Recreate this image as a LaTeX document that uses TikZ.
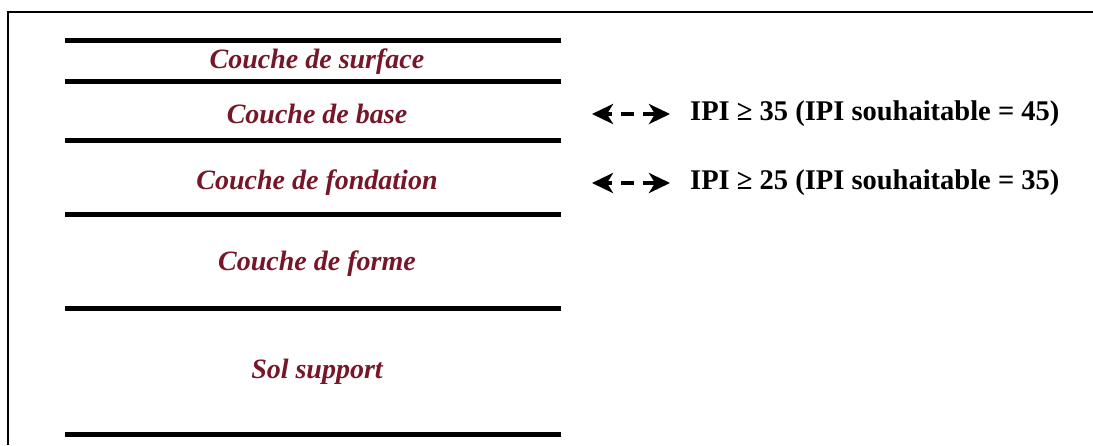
\documentclass[tikz,border=0pt]{standalone}
\usepackage{fontspec}
\setmainfont{Liberation Serif}
\usetikzlibrary{arrows.meta, positioning}
\definecolor{layerred}{RGB}{118,22,40}

\begin{document}
\begin{tikzpicture}[
        x=1pt, y=-1pt,
        layer/.style={line width=5pt, line cap=butt},
        couche/.style={font=\fontsize{28}{30}\selectfont\bfseries\itshape, text=layerred, inner sep=0pt},
        ipi/.style={font=\fontsize{28.5}{30}\selectfont\bfseries, inner sep=0pt, anchor=west},
        ipiarrow/.style={line width=4pt, dash pattern=on 6pt off 9pt on 13pt off 9pt on 12pt,
            {Stealth[length=21pt, width=20pt, inset=6pt]}-{Stealth[length=21pt, width=20pt, inset=6pt]}}
    ]
        \useasboundingbox (0,0) rectangle (1093,445);
        % cadre
        \draw[line width=1.5pt] (8,445) -- (8,12) -- (1093,12);

        % limites des couches
        \foreach \ypos in {40, 81, 140, 214, 308, 434}
            \draw[layer] (65,\ypos) -- (561,\ypos);

        \node[couche] (surface) at (317,62) {Couche de surface};
        \node[couche] (base) at (317,114) {Couche de base};
        \node[couche] (fondation) at (317,183) {Couche de fondation};
        \node[couche] (forme) at (317,264) {Couche de forme};
        \node[couche] (sol) at (317,372) {Sol support};

        % exigences IPI
        \node[ipi] (ipibase) at (690,114) {IPI ≥ 35 (IPI souhaitable = 45)};
        \node[ipi] (ipifondation) at (690,183) {IPI ≥ 25 (IPI souhaitable = 35)};

        \coordinate (baseL) at (592,114);
        \coordinate (baseR) at (670,114);
        \coordinate (fondL) at (592,183);
        \coordinate (fondR) at (670,183);

        \draw[ipiarrow] (baseL) -- (baseR);
        \draw[ipiarrow] (fondL) -- (fondR);
    \end{tikzpicture}
\end{document}
